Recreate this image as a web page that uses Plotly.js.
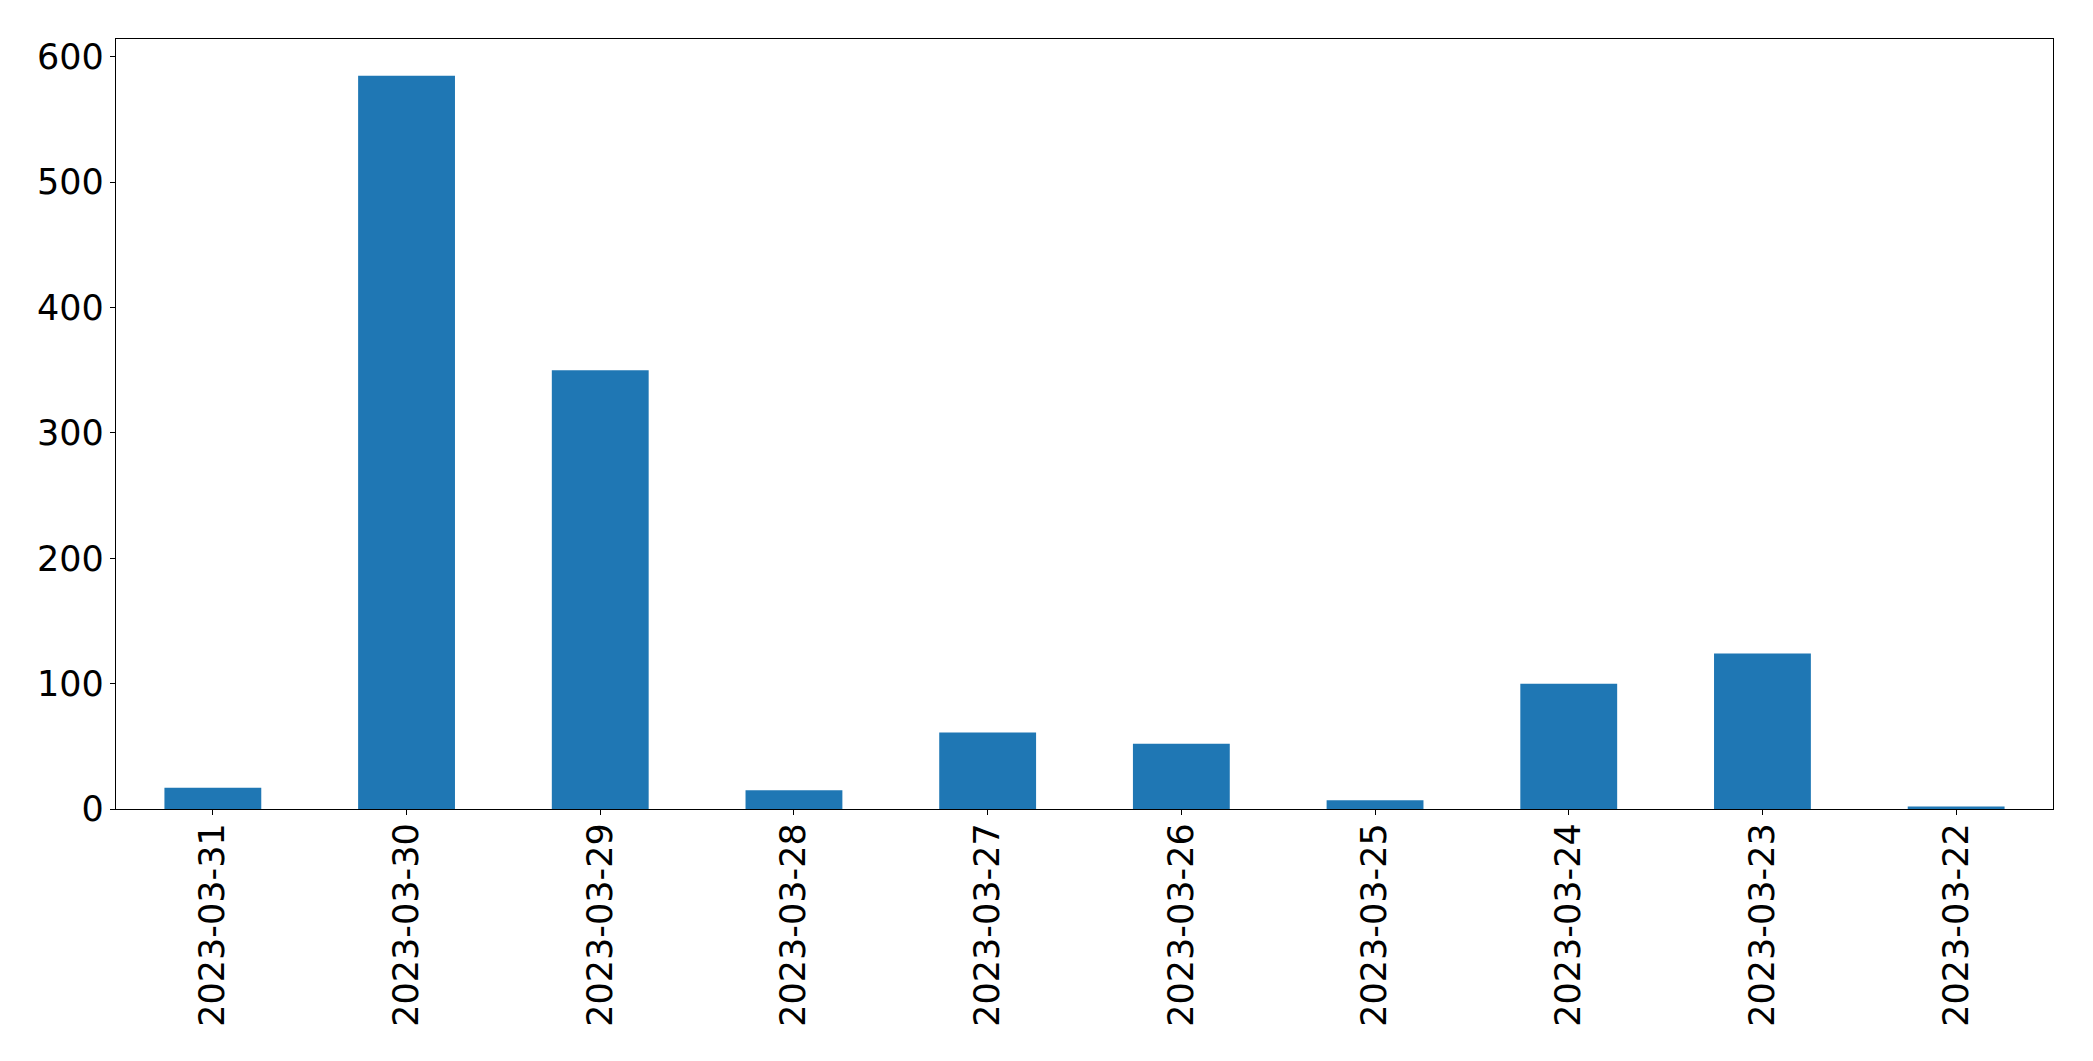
<!DOCTYPE html>
<html>
<head>
<meta charset="utf-8">
<script src="https://cdn.plot.ly/plotly-3.0.1.min.js"></script>
<style>html,body{margin:0;padding:0;background:#fff;}#chart{width:2093px;height:1061px;}</style>
</head>
<body>
<div id="chart"></div>
<script>
const dates = ["2023-03-31","2023-03-30","2023-03-29","2023-03-28","2023-03-27","2023-03-26","2023-03-25","2023-03-24","2023-03-23","2023-03-22"];
const counts = [17, 585, 350, 15, 61, 52, 7, 100, 124, 2];
const yTicks = [0, 100, 200, 300, 400, 500, 600];

const ymax = Math.max(...counts) * 1.05;
const font = {family: "DejaVu Sans", size: 35, color: "#000"};

Plotly.newPlot("chart", [{
  type: "bar",
  x: dates,
  y: counts,
  width: 0.5,
  marker: {color: "#1f77b4", line: {width: 0}},
  hoverinfo: "x+y"
}], {
  width: 2093, height: 1061,
  margin: {l: 116, r: 40, t: 39, b: 252, pad: 0},
  paper_bgcolor: "#fff", plot_bgcolor: "#fff",
  showlegend: false,
  font: font,
  xaxis: {
    type: "category",
    range: [-0.5, dates.length - 0.5],
    tickangle: -90,
    ticks: "outside", ticklen: 5, tickwidth: 1, tickcolor: "#000",
    ticklabelstandoff: -6,
    showline: true, linecolor: "#000", linewidth: 1.3, mirror: true,
    showgrid: false, zeroline: false,
    tickfont: font, automargin: false
  },
  yaxis: {
    range: [0, ymax],
    tickvals: yTicks,
    ticks: "outside", ticklen: 5, tickwidth: 1, tickcolor: "#000",
    ticklabelstandoff: -1,
    showline: true, linecolor: "#000", linewidth: 1.3, mirror: true,
    showgrid: false, zeroline: false,
    tickfont: font, automargin: false
  },
  bargap: 0.5
}, {displayModeBar: false, staticPlot: true});
</script>
</body>
</html>
